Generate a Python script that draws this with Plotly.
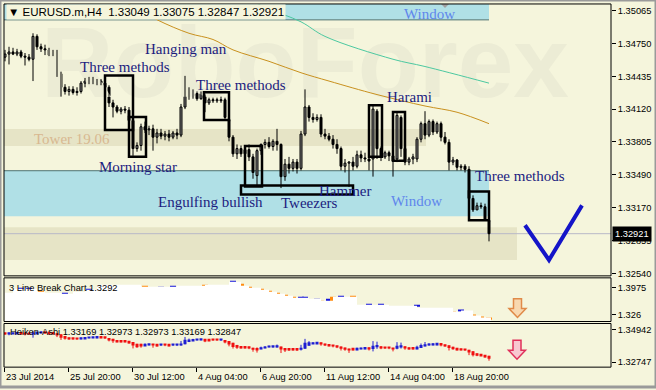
import plotly.graph_objects as go

W, H = 656, 390
def fx(x): return x / W
def fy(y): return 1 - y / H

BG = "#F5F5DC"

# ---------------- data: EURUSD.m H4 candles ----------------
bar = list(range(122))
opens = [1.3462,1.3465,1.3467,1.3465,1.3467,1.3463,1.3462,1.3460,1.3482,1.3472,
         1.3470,1.3469,1.3464,1.3467,1.3446,1.3433,1.3429,1.3431,1.3428,1.3429,
         1.3437,1.3439,1.3440,1.3438,1.3439,1.3437,1.3433,1.3418,1.3414,1.3410,
         1.3412,1.3411,1.3401,1.3374,1.3377,1.3395,1.3392,1.3393,1.3385,1.3389,
         1.3386,1.3388,1.3385,1.3389,1.3387,1.3414,1.3429,1.3425,1.3427,1.3422,
         1.3425,1.3418,1.3421,1.3420,1.3421,1.3421,1.3402,1.3385,1.3369,1.3374,
         1.3369,1.3373,1.3366,1.3348,1.3372,1.3378,1.3380,1.3376,1.3381,1.3378,
         1.3347,1.3359,1.3355,1.3361,1.3355,1.3388,1.3414,1.3404,1.3402,1.3404,
         1.3388,1.3386,1.3383,1.3378,1.3374,1.3357,1.3360,1.3361,1.3357,1.3368,
         1.3365,1.3364,1.3364,1.3410,1.3374,1.3366,1.3370,1.3367,1.3364,1.3404,
         1.3374,1.3361,1.3364,1.3364,1.3383,1.3398,1.3387,1.3400,1.3390,1.3398,
         1.3385,1.3380,1.3361,1.3363,1.3356,1.3357,1.3354,1.3326,1.3315,1.3319,
         1.3318,1.33049]
highs = [1.3469,1.3472,1.3471,1.3470,1.3469,1.3466,1.3465,1.3485,1.3484,1.3475,
         1.3474,1.3471,1.3469,1.3469,1.3448,1.3436,1.3434,1.3434,1.3433,1.3439,
         1.3442,1.3443,1.3443,1.3441,1.3441,1.3443,1.3435,1.3421,1.3416,1.3414,
         1.3415,1.3414,1.3404,1.3380,1.3398,1.3400,1.3396,1.3397,1.3393,1.3393,
         1.3391,1.3392,1.3391,1.3393,1.3417,1.3444,1.3433,1.3431,1.3429,1.3429,
         1.3426,1.3423,1.3423,1.3423,1.3424,1.3423,1.3404,1.3387,1.3378,1.3377,
         1.3376,1.3378,1.3369,1.3374,1.3379,1.3383,1.3385,1.3383,1.3393,1.3379,
         1.3364,1.3366,1.3364,1.3364,1.3391,1.3431,1.3416,1.3408,1.3407,1.3407,
         1.3393,1.3389,1.3387,1.3383,1.3376,1.3364,1.3362,1.3366,1.3372,1.3372,
         1.3370,1.3374,1.3416,1.3412,1.3376,1.3372,1.3372,1.3369,1.3409,1.3406,
         1.3376,1.3366,1.3369,1.3385,1.3400,1.3410,1.3402,1.3402,1.3400,1.3400,
         1.3390,1.3383,1.3366,1.3364,1.3359,1.3359,1.3357,1.3329,1.3322,1.3322,
         1.3321,1.33075]
lows = [1.3458,1.3455,1.3464,1.3463,1.3461,1.3454,1.3458,1.3439,1.3469,1.3467,
        1.3464,1.3463,1.3463,1.3443,1.3424,1.3426,1.3425,1.3426,1.3425,1.3427,
        1.3433,1.3436,1.3436,1.3435,1.3435,1.3431,1.3414,1.3404,1.3408,1.3407,
        1.3408,1.3399,1.3367,1.3371,1.3372,1.3389,1.3387,1.3372,1.3379,1.3383,
        1.3382,1.3381,1.3383,1.3383,1.3385,1.3412,1.3421,1.3422,1.3420,1.3421,
        1.3409,1.3416,1.3418,1.3418,1.3418,1.3401,1.3381,1.3366,1.3364,1.3366,
        1.3366,1.3362,1.3345,1.3339,1.3368,1.3374,1.3374,1.3372,1.3372,1.3336,
        1.3343,1.3350,1.3352,1.3350,1.3353,1.3386,1.3400,1.3399,1.3400,1.3385,
        1.3383,1.3381,1.3374,1.3369,1.3353,1.3351,1.3337,1.3353,1.3355,1.3361,
        1.3361,1.3353,1.3347,1.3364,1.3362,1.3364,1.3362,1.3347,1.3361,1.3366,
        1.3358,1.3358,1.3359,1.3361,1.3380,1.3383,1.3385,1.3387,1.3388,1.3381,
        1.3378,1.3353,1.3358,1.3353,1.3353,1.3351,1.3322,1.3313,1.3315,1.3316,
        1.3305,1.32847]
closes = [1.3465,1.3467,1.3465,1.3467,1.3463,1.3462,1.3460,1.3482,1.3472,1.3470,
          1.3469,1.3464,1.3467,1.3446,1.3433,1.3429,1.3431,1.3428,1.3429,1.3437,
          1.3439,1.3440,1.3438,1.3439,1.3437,1.3433,1.3418,1.3414,1.3410,1.3412,
          1.3411,1.3401,1.3374,1.3377,1.3395,1.3392,1.3393,1.3385,1.3389,1.3386,
          1.3388,1.3385,1.3389,1.3387,1.3414,1.3429,1.3425,1.3427,1.3422,1.3427,
          1.3418,1.3421,1.3420,1.3421,1.3420,1.3404,1.3385,1.3369,1.3374,1.3369,
          1.3373,1.3366,1.3351,1.3372,1.3378,1.3380,1.3376,1.3381,1.3378,1.3347,
          1.3359,1.3355,1.3361,1.3355,1.3388,1.3414,1.3404,1.3402,1.3404,1.3388,
          1.3386,1.3383,1.3378,1.3374,1.3357,1.3360,1.3361,1.3357,1.3368,1.3365,
          1.3364,1.3362,1.3412,1.3374,1.3366,1.3370,1.3367,1.3362,1.3406,1.3374,
          1.3361,1.3364,1.3366,1.3383,1.3398,1.3387,1.3400,1.3390,1.3398,1.3385,
          1.3380,1.3361,1.3363,1.3356,1.3357,1.3354,1.3326,1.3315,1.3319,1.3318,
          1.3306,1.32921]

# moving averages (sparse readings)
ma_slow_bar = [27, 30, 38, 46, 52, 57, 66, 74, 81, 93, 105, 113, 121]
ma_slow_val = [1.3522, 1.3515, 1.3498, 1.3485, 1.3479, 1.3469, 1.3458, 1.3447,
               1.3439, 1.3426, 1.3415, 1.3409, 1.3398]
ma_fast_bar = [60, 65, 74, 80, 97, 105, 121]
ma_fast_val = [1.3520, 1.3510, 1.3496, 1.3482, 1.3460, 1.3453, 1.3437]

# price-axis ticks
main_ticks = [1.35065, 1.34750, 1.34435, 1.34120, 1.33805, 1.33490, 1.33170, 1.32855, 1.32540]
bid = 1.32921

# 3 Line Break panel (indicator units)
lb_x = [0, 2, 8, 10, 14, 17, 20, 23, 34, 43, 50, 56, 59, 61, 64, 66, 68, 70, 72,
        76, 79, 82, 88, 96, 103, 112, 114, 117, 119, 121.5]
lb_v = [1.3843, 1.3949, 1.3869, 1.3843, 1.3816, 1.3869, 1.3922, 1.4054, 1.4001,
        1.4028, 1.4054, 1.4134, 1.4028, 1.3975, 1.3922, 1.3869, 1.3816, 1.3763,
        1.3710, 1.3684, 1.3631, 1.3737, 1.3525, 1.3498, 1.3445, 1.3339, 1.3366,
        1.3233, 1.3180, 1.3154]
brick_bar = [4, 6, 9, 15, 21, 35, 39, 42, 50, 57, 59, 61, 64, 66, 68, 70, 72, 74, 75,
             78, 79, 81, 82, 84, 87, 91, 94, 103, 112, 114, 117, 119, 121]
brick_top = [1.3975, 1.3975, 1.3896, 1.3843, 1.3949, 1.4028, 1.4001, 1.4028, 1.4054,
             1.4160, 1.4081, 1.4001, 1.3949, 1.3896, 1.3843, 1.3790, 1.3737, 1.3737,
             1.3737, 1.3684, 1.3631, 1.3684, 1.3737, 1.3763, 1.3763, 1.3551, 1.3551,
             1.3525, 1.3339, 1.3392, 1.3259, 1.3207, 1.3180]
brick_bot = [1.3922, 1.3922, 1.3843, 1.3790, 1.3896, 1.3975, 1.3949, 1.3975, 1.4001,
             1.4081, 1.4001, 1.3949, 1.3896, 1.3843, 1.3790, 1.3737, 1.3684, 1.3684,
             1.3684, 1.3631, 1.3578, 1.3525, 1.3525, 1.3525, 1.3498, 1.3498, 1.3498,
             1.3472, 1.3286, 1.3339, 1.3207, 1.3154, 1.3127]
brick_up = [1, 1, 0, 1, 1, 0, 1, 1, 0, 1, 0, 0, 0, 0, 0, 0, 0, 1, 1,
            1, 0, 1, 0, 1, 0, 1, 1, 1, 0, 1, 0, 0, 0]

x_tick_bar = [0, 16, 32, 48, 64, 80, 96, 112]
x_tick_lbl = ["23 Jul 2014", "25 Jul 20:00", "30 Jul 12:00", "4 Aug 04:00",
              "6 Aug 20:00", "11 Aug 12:00", "14 Aug 04:00", "18 Aug 20:00"]

# Heiken Ashi from the candles
ha_c = [(o + h + l + c) / 4 for o, h, l, c in zip(opens, highs, lows, closes)]
ha_o = [(opens[0] + closes[0]) / 2]
for k in range(1, len(bar)):
    ha_o.append((ha_o[k - 1] + ha_c[k - 1]) / 2)
ha_h = [max(h, a, b) for h, a, b in zip(highs, ha_o, ha_c)]
ha_l = [min(l, a, b) for l, a, b in zip(lows, ha_o, ha_c)]

XR = [-0.25, 151.5]
MAIN_Y = [1.32515, 1.35132]
LB_Y = [1.30746, 1.42398]
HA_Y = [1.32414, 1.35341]

def wick_xy(idx, hi, lo):
    xs, ys = [], []
    for i in idx:
        xs += [bar[i], bar[i], None]
        ys += [lo[i], hi[i], None]
    return xs, ys

fig = go.Figure()

# watermark (under everything)
fig.add_trace(go.Scatter(x=[75], y=[1.3448], mode="text", text=["<b>RoboForex</b>"],
                         textfont=dict(size=100, color="#ECECD5", family="Liberation Sans"),
                         cliponaxis=False, hoverinfo="skip", showlegend=False,
                         xaxis="x", yaxis="y"))

fig.add_trace(go.Scatter(x=ma_slow_bar, y=ma_slow_val, mode="lines",
                         line=dict(color="#C8901E", width=1, shape="spline"),
                         hoverinfo="skip", showlegend=False, xaxis="x", yaxis="y"))
fig.add_trace(go.Scatter(x=ma_fast_bar, y=ma_fast_val, mode="lines",
                         line=dict(color="#4CC8A0", width=1, shape="spline"),
                         hoverinfo="skip", showlegend=False, xaxis="x", yaxis="y"))

# main candles: wicks + bodies
wx, wy = wick_xy(range(len(bar)), highs, lows)
fig.add_trace(go.Scatter(x=wx, y=wy, mode="lines", line=dict(color="black", width=1),
                         hoverinfo="skip", showlegend=False, xaxis="x", yaxis="y"))
MINB = 0.00004
fig.add_trace(go.Bar(x=bar, base=[min(o, c) for o, c in zip(opens, closes)],
                     y=[max(abs(c - o), MINB) for o, c in zip(opens, closes)], width=0.5,
                     marker=dict(color=["white" if c > o else "black" for o, c in zip(opens, closes)],
                                 line=dict(color="black", width=1)),
                     hoverinfo="skip", showlegend=False, xaxis="x", yaxis="y"))

# line break panel
fig.add_trace(go.Scatter(x=lb_x, y=lb_v, mode="lines", line=dict(width=0, shape="hv"),
                         fill="tozeroy", fillcolor="white", hoverinfo="skip",
                         showlegend=False, xaxis="x2", yaxis="y2"))
fig.add_trace(go.Bar(x=brick_bar, y=[t - b for t, b in zip(brick_top, brick_bot)],
                     base=brick_bot, width=1.5,
                     marker=dict(color=["#1414D8" if u else "#FF8C10" for u in brick_up],
                                 line=dict(width=0)),
                     hoverinfo="skip", showlegend=False, xaxis="x2", yaxis="y2"))

# heiken ashi panel: wicks + bodies
HA_UP, HA_DN = "#1E1ED2", "#F01010"
up_idx = [i for i in bar if ha_c[i] >= ha_o[i]]
dn_idx = [i for i in bar if ha_c[i] < ha_o[i]]
for idx, col in [(up_idx, HA_UP), (dn_idx, HA_DN)]:
    wx, wy = wick_xy(idx, ha_h, ha_l)
    fig.add_trace(go.Scatter(x=wx, y=wy, mode="lines", line=dict(color=col, width=1),
                             hoverinfo="skip", showlegend=False, xaxis="x3", yaxis="y3"))
fig.add_trace(go.Bar(x=bar, base=[min(a, b) for a, b in zip(ha_o, ha_c)],
                     y=[max(abs(b - a), 0.0012) for a, b in zip(ha_o, ha_c)], width=0.75,
                     marker=dict(color=[HA_UP if b >= a else HA_DN for a, b in zip(ha_o, ha_c)],
                                 line=dict(width=0)),
                     hoverinfo="skip", showlegend=False, xaxis="x3", yaxis="y3"))

XD = [fx(4), fx(611)]
tickfont = dict(family="Liberation Sans", size=9.3, color="black")
ax_common = dict(showgrid=False, zeroline=False, showline=False, fixedrange=True)

layout = dict(
    width=W, height=H, margin=dict(l=0, r=0, t=0, b=0), autosize=False,
    paper_bgcolor=BG, plot_bgcolor=BG, showlegend=False, hovermode=False,
    barmode="overlay",
    xaxis=dict(domain=XD, range=XR, anchor="y", showticklabels=False, ticks="", **ax_common),
    yaxis=dict(domain=[fy(278), fy(4)], range=MAIN_Y, anchor="x", side="right",
               tickvals=main_ticks, ticktext=[f"{v:.5f}" for v in main_ticks],
               ticks="outside", ticklen=4, tickcolor="black", tickfont=tickfont, **ax_common),
    xaxis2=dict(domain=XD, range=XR, anchor="y2", showticklabels=False, ticks="", **ax_common),
    yaxis2=dict(domain=[fy(324), fy(280)], range=LB_Y, anchor="x2", side="right",
                tickvals=[1.3975, 1.326], ticktext=["1.3975", "1.326"],
                ticks="outside", ticklen=4, tickcolor="black", tickfont=tickfont, **ax_common),
    xaxis3=dict(domain=XD, range=XR, anchor="y3", showticklabels=False,
                tickvals=[b - 0.25 for b in x_tick_bar], ticks="outside", ticklen=4,
                tickcolor="black", **ax_common),
    yaxis3=dict(domain=[fy(370), fy(326)], range=HA_Y, anchor="x3", side="right",
                tickvals=[1.34942, 1.32747], ticktext=["1.34942", "1.32747"],
                ticks="outside", ticklen=4, tickcolor="black", tickfont=tickfont, **ax_common),
)
fig.update_layout(**layout)

shapes = []
def rect_data(x0, x1, y0, y1, fill, layer="below", line=None):
    shapes.append(dict(type="rect", xref="x", yref="y", x0=x0, x1=x1, y0=y0, y1=y1,
                       fillcolor=fill, line=line or dict(width=0), layer=layer))

# background zones
rect_data(-0.25, 105.25, 1.33766, 1.33929, "#E6E4C6")
rect_data(-0.25, 128, 1.32668, 1.32983, "#E6E4C6")
rect_data(-0.25, 121, 1.33088, 1.33527, "#B0E0E6")
rect_data(-0.25, 121, 1.34979, 1.35132, "#B0E0E6")
shapes.append(dict(type="line", xref="x", yref="y", x0=-0.25, x1=121, y0=1.33527, y1=1.33527,
                   line=dict(color="#4F7373", width=1), layer="below"))
shapes.append(dict(type="line", xref="x", yref="y", x0=-0.25, x1=121, y0=1.34979, y1=1.34979,
                   line=dict(color="#4F7373", width=1), layer="below"))
# bid line
shapes.append(dict(type="line", xref="x", yref="y", x0=-0.25, x1=151.5, y0=bid, y1=bid,
                   line=dict(color="#B8B8C8", width=1), layer="below"))

# pattern boxes (bar index, price)
boxes = [(25, 32, 1.34444, 1.33919), (31, 35.25, 1.34043, 1.33661),
         (49.75, 56, 1.34282, 1.34014), (60, 64.25, 1.33766, 1.33375),
         (59, 87, 1.33384, 1.33298), (91, 94.25, 1.34158, 1.33661),
         (97, 100, 1.34091, 1.33623), (116, 121, 1.33327, 1.33050)]
for x0, x1, y1, y0 in boxes:
    shapes.append(dict(type="rect", xref="x", yref="y", x0=x0, x1=x1, y0=y0, y1=y1,
                       line=dict(color="black", width=2.5), fillcolor="rgba(0,0,0,0)", layer="above"))

def ppath(pts):
    return "M " + " L ".join(f"{fx(x):.5f},{fy(y):.5f}" for x, y in pts)

# check mark
shapes.append(dict(type="path", xref="paper", yref="paper",
                   path=ppath([(525, 227), (549, 262), (582, 207)]),
                   line=dict(color="#1414C8", width=4), layer="above"))
# shift marker
shapes.append(dict(type="path", xref="paper", yref="paper",
                   path=ppath([(441, 4), (449, 4), (445, 8)]) + " Z",
                   fillcolor="#A0A0A0", line=dict(width=0), layer="above"))
# panel arrows
shapes.append(dict(type="path", xref="paper", yref="paper",
                   path=ppath([(513.5, 301), (521.5, 301), (521.5, 311), (526, 311), (517.5, 320),
                               (509, 311), (513.5, 311)]) + " Z",
                   fillcolor="#F8D8B0", line=dict(color="#E08A48", width=1.5), layer="above"))
shapes.append(dict(type="path", xref="paper", yref="paper",
                   path=ppath([(513, 343), (521, 343), (521, 353), (525.5, 353), (517, 362),
                               (508.5, 353), (513, 353)]) + " Z",
                   fillcolor="#F8C8D0", line=dict(color="#E0305A", width=1.5), layer="above"))
# frames
for y0, y1 in [(4, 278), (280, 324), (326, 370)]:
    shapes.append(dict(type="rect", xref="paper", yref="paper", x0=fx(4), x1=fx(611),
                       y0=fy(y1), y1=fy(y0), line=dict(color="black", width=1), layer="above"))
shapes.append(dict(type="rect", xref="paper", yref="paper", x0=0, x1=1, y0=0, y1=1,
                   line=dict(color="#9A9A9A", width=3), layer="above"))
fig.update_layout(shapes=shapes)

ann = []
def txt(x, y, s, color, size=15, family="Liberation Serif", xanchor="center", **kw):
    d = dict(x=fx(x), y=fy(y), xref="paper", yref="paper", text=s, showarrow=False,
             xanchor=xanchor, yanchor="middle", font=dict(family=family, size=size, color=color))
    d.update(kw)
    ann.append(d)

NAVY = "#1C1C80"
txt(186, 49, "Hanging man", NAVY)
txt(125, 68, "Three methods", NAVY)
txt(241, 86, "Three methods", NAVY)
txt(409, 98, "Harami", NAVY)
txt(72, 140, "Tower 19.06", "#D8B890")
txt(138, 168, "Morning star", NAVY)
txt(210, 204, "Engulfing bullish", NAVY)
txt(309, 205, "Tweezers", NAVY)
txt(345, 192, "Hammer", NAVY)
txt(417, 203, "Window", "#5F86EC")
txt(429, 14, "Window", "#5F86EC")
txt(520, 177, "Three methods", NAVY)

SANS = "Liberation Sans"
txt(6, 12, "▼ EURUSD.m,H4  1.33049 1.33075 1.32847 1.32921", "black", size=11.5,
    family=SANS, xanchor="left", bgcolor=BG, borderpad=1)
txt(7, 290, "3 Line Break Chart 1.3292", "black", size=9.3, family=SANS, xanchor="left")
txt(8, 335, "Heiken-Ashi 1.33169 1.32973 1.32973 1.33169 1.32847", "black", size=9.3,
    family=SANS, xanchor="left")
ann.append(dict(x=fx(612), y=bid, xref="paper", yref="y", text="1.32921", showarrow=False,
                xanchor="left", yanchor="middle", bgcolor="black", borderpad=2,
                font=dict(family=SANS, size=9.3, color="white")))
for b, s in zip(x_tick_bar, x_tick_lbl):
    ann.append(dict(x=b - 0.25, y=fy(380), xref="x3", yref="paper", text=s, showarrow=False,
                    xanchor="left", yanchor="middle",
                    font=dict(family=SANS, size=9.3, color="black")))
fig.update_layout(annotations=ann)

fig.write_html("out.html", config={"displayModeBar": False})

# remove the browser's default page margin so the figure sits at (0, 0)
with open("out.html", "r", encoding="utf-8") as f:
    page = f.read()
page = page.replace("<head>", "<head><style>html,body{margin:0;padding:0;overflow:hidden;}</style>", 1)
with open("out.html", "w", encoding="utf-8") as f:
    f.write(page)
